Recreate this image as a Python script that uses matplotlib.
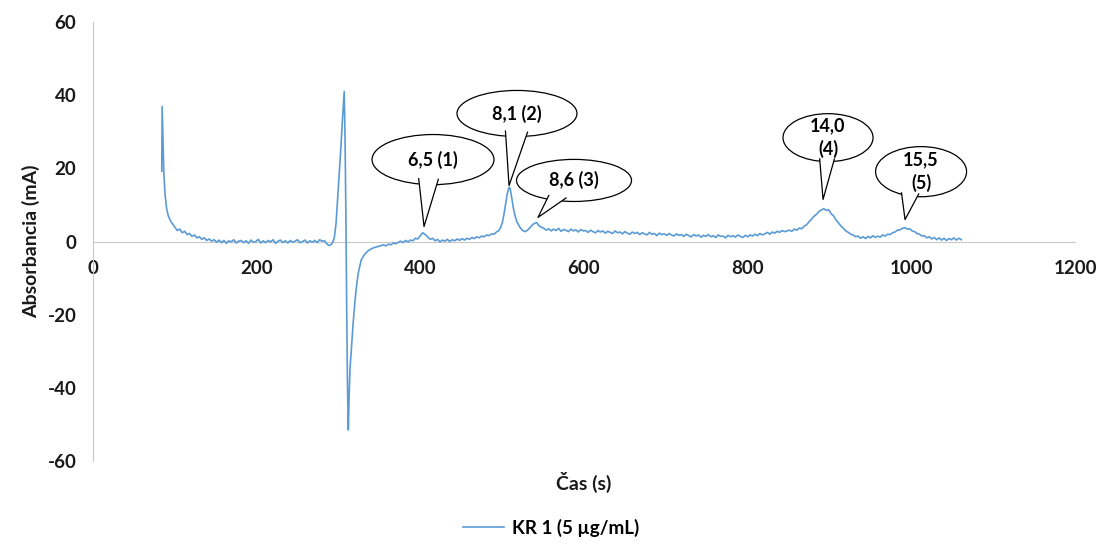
import numpy as np
import matplotlib
matplotlib.use("Agg")
import matplotlib.pyplot as plt
from matplotlib.patches import Ellipse, Polygon

plt.rcParams['font.family'] = ['Lato', 'DejaVu Sans']
plt.rcParams['font.weight'] = 'bold'
plt.rcParams['axes.labelweight'] = 'bold'
plt.rcParams['axes.unicode_minus'] = False

# nastrik signal, cas (s) / absorbancia (mA)
t_start = [84, 84.5, 85.5, 86.5, 88, 90, 92, 95, 98]
y_start = [19.2, 36.9, 28, 19, 13, 9, 7, 5.5, 4.6]

y_decay = [3.9, 3.0, 3.4, 2.4, 2.8, 1.9, 2.2, 1.4, 1.8, 1.0, 1.3, 0.6, 1.0, 0.3, 0.7, 0.1, 0.5]  # od 100 s, krok 3
y_base1 = [-0.2, 0.4, -0.3, 0.3, -0.5, 0.2, -0.1, 0.5, -0.4, 0.1, 0.3, -0.3, 0.2, -0.5, 0.4,
           -0.2, 0.0, 0.6, -0.4, 0.2, -0.3, 0.3, -0.1, 0.5, -0.5, 0.1, 0.4, -0.3, 0.2, -0.4,
           0.3, -0.2, 0.1, 0.5, -0.3, 0.0, 0.4, -0.4, 0.2, -0.2, 0.3, -0.3, 0.5, 0.1]  # od 151 s

t_spike = [283, 285, 287, 289, 291, 293, 295, 297, 299, 301, 303, 305, 307, 308, 309, 310, 311,
           312, 313, 314, 316, 318, 320, 322, 324, 326, 328, 331, 334, 337, 340, 343, 346, 349]
y_spike = [0.2, -0.4, -0.9, -1.1, -0.8, -0.2, 1.2, 5, 12, 19, 26, 34, 41, 28, 8, -18, -40,
           -51.5, -42, -35, -28.6, -22, -16.5, -12.2, -8.8, -6.7, -4.9, -3.8, -3.0, -2.4, -2.0,
           -1.7, -1.5, -1.3]

y_base2 = [-1.1, -0.9, -1.2, -0.7, -0.9, -0.4, -0.6, -0.2, 0.1, -0.3, 0.3, -0.1, 0.4, 0.2, 0.9,
           0.7, 1.6, 2.4, 1.9, 1.3, 0.6, 0.9, 0.2, 0.6, -0.1, 0.4, 0.1, 0.6, 0.0, 0.5, 0.2, 0.7,
           0.3, 0.8, 0.4, 0.9, 0.6, 1.1, 0.8, 1.3, 1.0, 1.5, 1.3, 1.8, 1.6, 2.1, 2.0, 2.6, 3.0]  # od 352 s

t_pk2 = [498, 500, 502, 504, 506, 508, 509, 510, 512, 514, 516, 518, 520, 522, 525, 528, 531,
         534, 537, 540, 542, 545, 548]
y_pk2 = [3.8, 5.0, 7.2, 10, 12.8, 14.6, 14.8, 14.2, 11.5, 8.8, 6.8, 5.4, 4.6, 3.8, 3.0, 2.7, 3.1,
         3.8, 4.6, 5.0, 5.2, 4.3, 3.9]

y_base3 = [3.6, 3.1, 3.5, 2.9, 3.4, 3.0, 3.6, 2.8, 3.3, 3.1, 2.7, 3.4, 2.9, 3.2, 2.6, 3.3, 2.9,
           3.0, 2.5, 3.1, 2.7, 2.4, 3.0, 2.6, 2.9, 2.3, 2.8, 2.5, 2.2, 2.9, 2.4, 2.6, 2.1, 2.7,
           2.3, 2.0, 2.6, 2.2, 2.5, 1.9, 2.4, 2.1, 1.8, 2.5, 2.0, 2.2, 1.6, 2.3, 1.9, 2.1,
           1.7, 2.2, 1.8, 1.5, 2.1, 1.7, 1.9, 1.4, 2.0, 1.6, 1.3, 1.9, 1.5, 1.8, 1.2, 1.7, 1.4,
           1.9, 1.3, 1.6, 1.1, 1.8, 1.4, 1.5, 1.0, 1.7, 1.3, 1.6, 1.2, 1.8, 1.4, 1.1, 1.7,
           1.3, 1.8, 1.5, 2.0, 1.6, 2.2, 1.8, 2.1, 2.5, 2.0, 2.6, 2.3, 2.8, 2.5, 3.0, 2.7]  # od 551 s

y_pk4 = [3.1, 2.8, 3.4, 3.1, 3.7, 3.5, 4.2, 4.6, 5.4, 6.1, 6.9, 7.4, 8.2, 8.6, 9.0, 8.5, 8.7,
         7.6, 7.0, 5.9, 5.1, 4.2, 3.6, 2.9, 2.5, 2.0, 1.8, 1.3, 1.5, 0.9]  # od 851 s

y_end = [1.3, 0.8, 1.4, 1.0, 1.6, 1.1, 1.5, 1.2, 1.8, 1.5, 2.0, 1.9, 2.4, 2.6, 3.1, 3.2, 3.6,
         3.8, 3.4, 3.5, 2.9, 2.7, 2.2, 2.0, 1.5, 1.6, 1.0, 1.3, 0.7, 1.1, 0.5, 1.0, 0.4, 0.9,
         0.3, 0.8, 0.5, 1.0, 0.4, 0.9, 0.5]  # od 941 s


def cas(t0, hodnoty, krok=3):
    return list(t0 + krok * np.arange(len(hodnoty)))


x = (t_start + cas(100, y_decay) + cas(151, y_base1) + t_spike + cas(352, y_base2)
     + t_pk2 + cas(551, y_base3) + cas(851, y_pk4) + cas(941, y_end))
y = y_start + y_decay + y_base1 + y_spike + y_base2 + y_pk2 + y_base3 + y_pk4 + y_end

# popisky pikov: text, stred elipsy, sirka, vyska, zaklad chvosta, hrot
popisky = [
    ("6,5 (1)", (415.5, 22.4), 149, 13.7, [(398, 17.2), (422, 17.0)], (404.5, 4.1)),
    ("8,1 (2)", (518.1, 35.0), 146.6, 12.6, [(504, 30.2), (531, 29.9)], (508.4, 15.3)),
    ("8,6 (3)", (587.8, 16.7), 140.5, 11.5, [(557, 12.6), (578, 11.9)], (543.8, 6.6)),
    ("14,0\n(4)", (898.2, 28.4), 110, 13.1, [(888, 22.6), (906, 22.6)], (892.1, 11.5)),
    ("15,5\n(5)", (1011.9, 19.1), 111.2, 13.7, [(988, 13.3), (1009, 13.0)], (992.3, 6.0)),
]

fig = plt.figure(figsize=(11.02, 5.51), dpi=100)
ax = fig.add_axes([0.0844, 0.1633, 0.8911, 0.7967])

ax.plot(x, y, color='#5b9bd5', lw=1.2, label='KR 1 (5 µg/mL)', zorder=3)

ax.set_xlim(0, 1200)
ax.set_ylim(-60, 60)
ax.set_xticks([0, 200, 400, 600, 800, 1000, 1200])
ax.set_yticks([-60, -40, -20, 0, 20, 40, 60])

for s in ['top', 'right']:
    ax.spines[s].set_visible(False)
ax.spines['bottom'].set_position(('data', 0))
ax.spines['left'].set_color('#c8c8c8')
ax.spines['bottom'].set_color('#c8c8c8')
ax.tick_params(length=0, labelsize=13.5, colors='#1a1a1a')
ax.tick_params(axis='x', pad=13)
ax.tick_params(axis='y', pad=12)

ax.set_xlabel('Čas (s)', fontsize=14, color='#1a1a1a')
ax.xaxis.set_label_coords(0.5, -0.025)
ax.set_ylabel('Absorbancia (mA)', fontsize=14, color='#1a1a1a')
ax.yaxis.set_label_coords(-0.054, 0.5)

for text, c, w, h, zaklad, hrot in popisky:
    ax.add_patch(Ellipse(c, w, h, facecolor='white', edgecolor='black', lw=0.9, zorder=5))
    ax.add_patch(Polygon([zaklad[0], hrot, zaklad[1]], closed=True, facecolor='white',
                         edgecolor='none', zorder=6))
    ax.plot([zaklad[0][0], hrot[0], zaklad[1][0]], [zaklad[0][1], hrot[1], zaklad[1][1]],
            color='black', lw=0.9, zorder=7)
    ax.text(c[0], c[1], text, ha='center', va='center', fontsize=13,
            linespacing=1.4, zorder=8)

fig.legend(loc='lower center', bbox_to_anchor=(0.5, -0.005), frameon=False, handlelength=2.2,
           handletextpad=0.4, prop={'size': 13.5, 'weight': 'bold'})

fig.savefig('out.png', dpi=100)
